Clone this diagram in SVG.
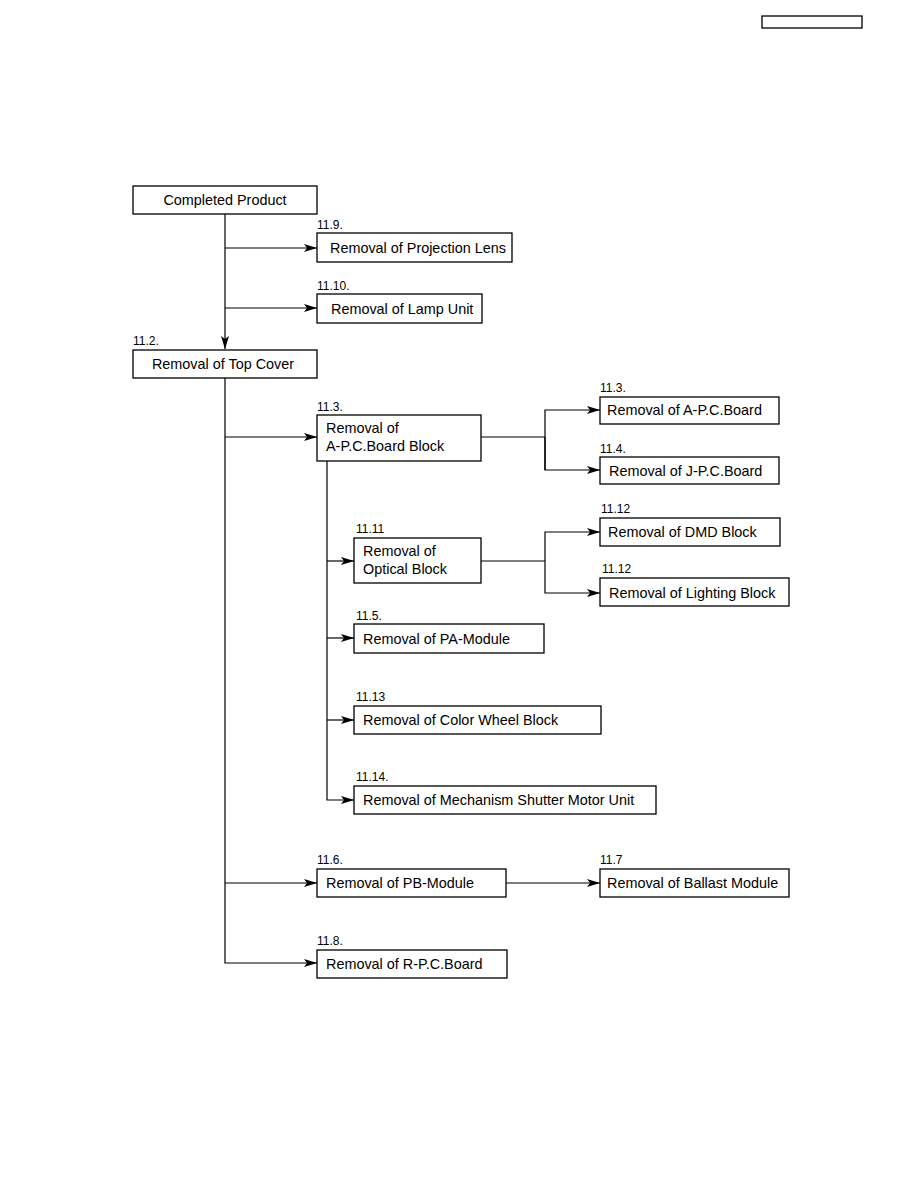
<svg xmlns="http://www.w3.org/2000/svg" width="918" height="1188" viewBox="0 0 918 1188">
<style>
.box{fill:#fff;stroke:#000;stroke-width:1.3}
.t{font-family:"Liberation Sans",Arial,sans-serif;font-size:14.4px;fill:#000}
.n{font-family:"Liberation Sans",Arial,sans-serif;font-size:12px;fill:#000}
.c{fill:none;stroke:#000;stroke-width:1.2}
</style>
<defs>
<marker id="ah" viewBox="0 0 13 8" refX="13" refY="4" markerWidth="13" markerHeight="8" markerUnits="userSpaceOnUse" orient="auto">
<path d="M0,0 L13,4 L0,8 L3,4 Z" fill="#000"/>
</marker>
</defs>
<rect x="762" y="16" width="100" height="12" fill="none" stroke="#000" stroke-width="1.3"/>
<g id="connectors">
<path class="c" d="M225,214 V349" marker-end="url(#ah)"/>
<path class="c" d="M225,248 H317" marker-end="url(#ah)"/>
<path class="c" d="M225,308 H317" marker-end="url(#ah)"/>
<path class="c" d="M225,378 V963 H317" marker-end="url(#ah)"/>
<path class="c" d="M225,437 H317" marker-end="url(#ah)"/>
<path class="c" d="M481,437 H545"/>
<path class="c" d="M545,470 V410 H600" marker-end="url(#ah)"/>
<path class="c" d="M545,437 V470 H600" marker-end="url(#ah)"/>
<path class="c" d="M327,461 V800 H354" marker-end="url(#ah)"/>
<path class="c" d="M327,561 H354" marker-end="url(#ah)"/>
<path class="c" d="M481,561 H545"/>
<path class="c" d="M545,561 V532 H600" marker-end="url(#ah)"/>
<path class="c" d="M545,561 V593 H600" marker-end="url(#ah)"/>
<path class="c" d="M327,638 H354" marker-end="url(#ah)"/>
<path class="c" d="M327,720 H354" marker-end="url(#ah)"/>
<path class="c" d="M225,883 H317" marker-end="url(#ah)"/>
<path class="c" d="M506,883 H600" marker-end="url(#ah)"/>
</g>
<g id="completed">
<rect class="box" x="133" y="186" width="184" height="28"/>
<text class="t" x="225" y="205" text-anchor="middle">Completed Product</text>
</g>
<g id="lens">
<text class="n" x="317" y="229">11.9.</text>
<rect class="box" x="317" y="233" width="195" height="29"/>
<text class="t" x="330" y="253">Removal of Projection Lens</text>
</g>
<g id="lamp">
<text class="n" x="317" y="290">11.10.</text>
<rect class="box" x="317" y="294" width="165" height="29"/>
<text class="t" x="331" y="314">Removal of Lamp Unit</text>
</g>
<g id="topcover">
<text class="n" x="133" y="345">11.2.</text>
<rect class="box" x="133" y="350" width="184" height="28"/>
<text class="t" x="223" y="369" text-anchor="middle">Removal of Top Cover</text>
</g>
<g id="apcblock">
<text class="n" x="317" y="411">11.3.</text>
<rect class="box" x="317" y="415" width="164" height="46"/>
<text class="t" x="326" y="433">Removal of</text>
<text class="t" x="326" y="451">A-P.C.Board Block</text>
</g>
<g id="apcboard">
<text class="n" x="600" y="392">11.3.</text>
<rect class="box" x="600" y="397" width="179" height="27"/>
<text class="t" x="607" y="415">Removal of A-P.C.Board</text>
</g>
<g id="jpcboard">
<text class="n" x="600" y="453">11.4.</text>
<rect class="box" x="600" y="457" width="179" height="27"/>
<text class="t" x="609" y="476">Removal of J-P.C.Board</text>
</g>
<g id="optical">
<text class="n" x="356" y="533">11.11</text>
<rect class="box" x="354" y="538" width="127" height="45"/>
<text class="t" x="363" y="556">Removal of</text>
<text class="t" x="363" y="574">Optical Block</text>
</g>
<g id="dmd">
<text class="n" x="601" y="513">11.12</text>
<rect class="box" x="600" y="518" width="180" height="28"/>
<text class="t" x="608" y="537">Removal of DMD Block</text>
</g>
<g id="lighting">
<text class="n" x="602" y="573">11.12</text>
<rect class="box" x="600" y="578" width="189" height="28"/>
<text class="t" x="609" y="598">Removal of Lighting Block</text>
</g>
<g id="pamodule">
<text class="n" x="356" y="620">11.5.</text>
<rect class="box" x="354" y="624" width="190" height="29"/>
<text class="t" x="363" y="644">Removal of PA-Module</text>
</g>
<g id="colorwheel">
<text class="n" x="356" y="701">11.13</text>
<rect class="box" x="354" y="706" width="247" height="28"/>
<text class="t" x="363" y="725">Removal of Color Wheel Block</text>
</g>
<g id="shutter">
<text class="n" x="356" y="781">11.14.</text>
<rect class="box" x="354" y="786" width="302" height="28"/>
<text class="t" x="363" y="805">Removal of Mechanism Shutter Motor Unit</text>
</g>
<g id="pbmodule">
<text class="n" x="317" y="864">11.6.</text>
<rect class="box" x="317" y="869" width="189" height="28"/>
<text class="t" x="326" y="888">Removal of PB-Module</text>
</g>
<g id="ballast">
<text class="n" x="600" y="864">11.7</text>
<rect class="box" x="600" y="869" width="189" height="28"/>
<text class="t" x="607" y="888">Removal of Ballast Module</text>
</g>
<g id="rpcboard">
<text class="n" x="317" y="945">11.8.</text>
<rect class="box" x="317" y="950" width="190" height="28"/>
<text class="t" x="326" y="969">Removal of R-P.C.Board</text>
</g>
</svg>
